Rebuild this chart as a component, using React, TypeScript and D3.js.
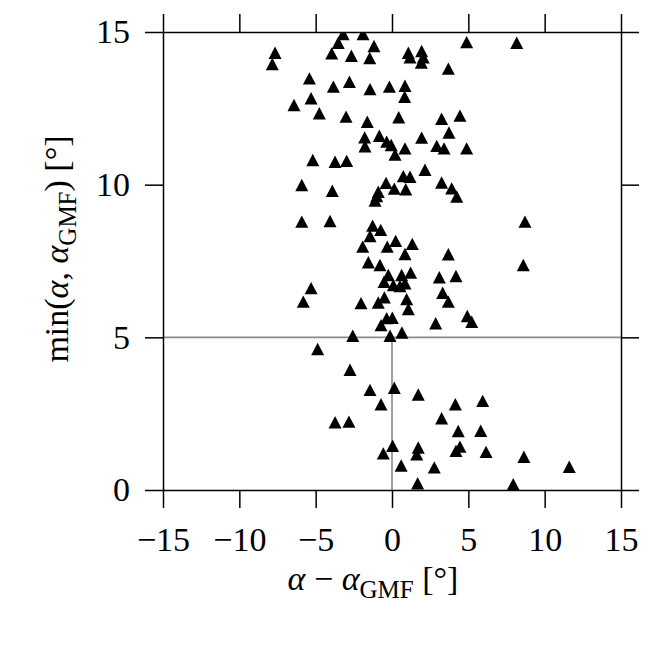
import React, { useRef, useEffect } from "react";
import { select, scaleLinear, axisBottom, axisTop, axisLeft, axisRight } from "d3";

// alpha - alpha_GMF [deg]
const alphaDiff = [
  -3.2, -1.9, -3.52, -1.18, -7.66, -7.84, -3.95, -2.66, -1.46, 1.07,
  1.18, 1.94, 2.05, 1.92, 4.89, 8.17, 3.69, -5.41, -3.84, -2.79,
  -1.44, -0.17, 0.85, 0.83, -5.3, -6.42, -4.76, -3.01, -1.62, 0.44,
  3.25, 4.45, 3.73, 1.94, 2.93, 3.41, 4.89, 0.85, -1.79, -1.77,
  -0.83, -0.35, -0.05, 0.2, -5.19, -3.73, -2.97, 2.16, 0.74, 1.18,
  3.25, -0.39, 3.91, 4.24, 0.15, 0.9, -5.91, -3.91, -0.9, -1.0,
  -1.11, -5.91, -4.06, 8.71, -1.27, -0.74, -1.44, 0.24, -1.92, -0.31,
  1.33, 0.85, 3.69, 8.6, -1.55, -0.79, -0.24, 0.63, 1.22, 3.1,
  4.19, -0.52, 0.09, 0.52, 0.85, -5.3, -5.81, -2.03, -0.9, -0.5,
  0.96, 1.07, 3.32, 3.69, -0.35, 0.02, -0.72, 2.86, 4.93, 5.22,
  -2.57, -0.13, 0.65, -4.87, -2.75, -1.44, 0.15, 1.72, -0.72, 4.15,
  5.94, 3.25, -3.73, -2.82, 4.34, 5.81, 0.04, -0.57, 1.72, 1.62,
  4.45, 4.19, 6.16, 8.64, 0.6, 2.77, 1.68, 7.94, 11.61,
];

// min(alpha, alpha_GMF) [deg]
const minAlpha = [
  14.93, 14.93, 14.65, 14.54, 14.32, 13.95, 14.3, 14.22, 14.15, 14.32,
  14.17, 14.38, 14.17, 14.0, 14.67, 14.65, 13.8, 13.48, 13.21, 13.37,
  13.13, 13.21, 13.24, 12.88, 12.83, 12.61, 12.34, 12.23, 12.06, 12.21,
  12.16, 12.26, 11.71, 11.54, 11.27, 11.19, 11.19, 11.19, 11.55, 11.26,
  11.6, 11.41, 11.3, 10.99, 10.81, 10.75, 10.78, 10.49, 10.28, 10.26,
  10.07, 10.06, 9.88, 9.61, 9.87, 9.85, 9.99, 9.8, 9.77, 9.63,
  9.48, 8.79, 8.81, 8.79, 8.66, 8.52, 8.32, 8.16, 7.97, 7.97,
  8.06, 7.73, 7.72, 7.37, 7.46, 7.37, 7.04, 7.04, 7.12, 6.97,
  7.01, 6.82, 6.71, 6.68, 6.77, 6.61, 6.17, 6.12, 6.14, 6.31,
  6.25, 5.93, 6.46, 6.17, 5.63, 5.64, 5.4, 5.46, 5.7, 5.51,
  5.05, 5.05, 5.16, 4.62, 3.94, 3.28, 3.35, 3.13, 2.81, 2.81,
  2.92, 2.35, 2.22, 2.24, 1.93, 1.94, 1.45, 1.2, 1.39, 1.17,
  1.42, 1.28, 1.25, 1.09, 0.8, 0.74, 0.22, 0.19, 0.76,
];

const xTicks = [-15, -10, -5, 0, 5, 10, 15];
const yTicks = [0, 5, 10, 15];
const threshold = 5;

const font = "'Liberation Serif', 'DejaVu Serif', serif";
const fontSize = 34;

function App() {
  const svgRef = useRef(null);

  useEffect(() => {
    const svg = select(svgRef.current);
    svg.selectAll("*").remove();

    const x = scaleLinear().domain([-15, 15]).range([163, 621]);
    const y = scaleLinear().domain([0, 15]).range([490, 32]);

    svg.append("defs").append("clipPath").attr("id", "plot-clip")
      .append("rect")
      .attr("x", x(-15)).attr("y", y(15))
      .attr("width", x(15) - x(-15)).attr("height", y(0) - y(15));

    // gray reference lines
    svg.append("line")
      .attr("x1", x(-15)).attr("x2", x(15))
      .attr("y1", y(threshold)).attr("y2", y(threshold))
      .attr("stroke", "#8a8a8a").attr("stroke-width", 1.6);
    svg.append("line")
      .attr("x1", x(0)).attr("x2", x(0))
      .attr("y1", y(0)).attr("y2", y(threshold))
      .attr("stroke", "#8a8a8a").attr("stroke-width", 1.6);

    // triangle markers
    const hw = 6.5, hh = 6.2;
    svg.append("g").attr("clip-path", "url(#plot-clip)")
      .selectAll("path")
      .data(alphaDiff.map((d, i) => ({ dx: d, m: minAlpha[i] })))
      .join("path")
      .attr("d", d => {
        const cx = x(d.dx), cy = y(d.m);
        return `M${cx},${cy - hh}L${cx + hw},${cy + hh}L${cx - hw},${cy + hh}Z`;
      })
      .attr("fill", "black");

    const styleAxis = g => {
      g.select(".domain").attr("stroke", "black").attr("stroke-width", 1.5);
      g.selectAll(".tick line").attr("stroke", "black").attr("stroke-width", 1.5);
      g.selectAll("text").attr("font-family", font).attr("font-size", fontSize).attr("fill", "black");
    };

    svg.append("g").attr("transform", `translate(0,${y(0)})`)
      .call(axisBottom(x).tickValues(xTicks).tickSize(18).tickSizeOuter(0).tickPadding(19))
      .call(styleAxis);
    svg.append("g").attr("transform", `translate(0,${y(15)})`)
      .call(axisTop(x).tickValues(xTicks).tickSize(18).tickSizeOuter(0).tickFormat(() => ""))
      .call(styleAxis);
    svg.append("g").attr("transform", `translate(${x(-15)},0)`)
      .call(axisLeft(y).tickValues(yTicks).tickSize(18).tickSizeOuter(0).tickPadding(15))
      .call(styleAxis);
    svg.append("g").attr("transform", `translate(${x(15)},0)`)
      .call(axisRight(y).tickValues(yTicks).tickSize(18).tickSizeOuter(0).tickFormat(() => ""))
      .call(styleAxis);

    // x label: alpha - alpha_GMF [deg]
    const xl = svg.append("text")
      .attr("x", 373).attr("y", 590)
      .attr("text-anchor", "middle")
      .attr("font-family", font).attr("font-size", fontSize);
    xl.append("tspan").attr("font-style", "italic").text("α");
    xl.append("tspan").text(" − ");
    xl.append("tspan").attr("font-style", "italic").text("α");
    xl.append("tspan").attr("font-size", 25).attr("dy", 8).text("GMF");
    xl.append("tspan").attr("dy", -8).text(" [°]");

    // y label: min(alpha, alpha_GMF) [deg]
    const yl = svg.append("text")
      .attr("transform", "translate(68,249) rotate(-90)")
      .attr("text-anchor", "middle")
      .attr("font-family", font).attr("font-size", fontSize);
    yl.append("tspan").text("min(");
    yl.append("tspan").attr("font-style", "italic").text("α");
    yl.append("tspan").text(", ");
    yl.append("tspan").attr("font-style", "italic").text("α");
    yl.append("tspan").attr("font-size", 25).attr("dy", 8).text("GMF");
    yl.append("tspan").attr("dy", -8).text(") [°]");
  }, []);

  return (
    <svg
      ref={svgRef}
      width={654}
      height={654}
      style={{ position: "absolute", left: 0, top: 0, background: "white" }}
    />
  );
}

export default App;
